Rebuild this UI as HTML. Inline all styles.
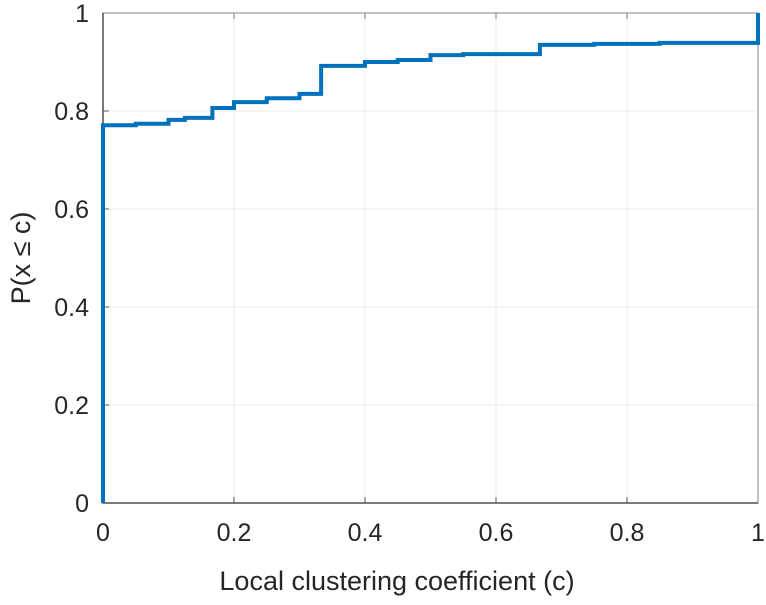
<!DOCTYPE html>
<html><head><meta charset="utf-8"><style>
body{margin:0;background:#fff;width:766px;height:600px;overflow:hidden}
text{font-family:"Liberation Sans",sans-serif;fill:#262626}
</style></head><body>
<svg id="chart" width="766" height="600" xmlns="http://www.w3.org/2000/svg">
<g id="grid"></g>
<g id="ticks"></g>
<path id="series" fill="none" stroke="#0072BD" stroke-width="4" stroke-linejoin="miter"></path>
<text x="397" y="590" font-size="27" text-anchor="middle">Local clustering coefficient (c)</text>
<text transform="translate(30,258) rotate(-90)" font-size="27" text-anchor="middle">P(x ≤ c)</text>
</svg>
<script>
const xTicks=[0,0.2,0.4,0.6,0.8,1];
const xTickLabels=["0","0.2","0.4","0.6","0.8","1"];
const yTicks=[0,0.2,0.4,0.6,0.8,1];
const yTickLabels=["0","0.2","0.4","0.6","0.8","1"];
const cX=[0,0,0.05,0.1,0.125,0.167,0.2,0.25,0.3,0.333,0.4,0.45,0.5,0.55,0.667,0.75,0.85,1,1];
const cY=[0,0.771,0.774,0.782,0.786,0.806,0.818,0.826,0.835,0.892,0.900,0.904,0.914,0.916,0.935,0.937,0.939,0.939,1];
const L=103,R=758,T=13,B=503;
const sx=v=>L+v*(R-L), sy=v=>B-v*(B-T);
const ns="http://www.w3.org/2000/svg";
const grid=document.getElementById('grid'), ticks=document.getElementById('ticks');
function mk(p,tag,a){const e=document.createElementNS(ns,tag);for(const k in a)e.setAttribute(k,a[k]);p.appendChild(e);return e;}
xTicks.forEach((v,i)=>{
 const g=mk(grid,'line',{x1:sx(v),x2:sx(v),y1:T,y2:B,stroke:'#ebebeb','stroke-width':1});
 
 
 const t=mk(ticks,'line',{x1:sx(v),x2:sx(v),y1:B,y2:B-6,stroke:'#555','stroke-width':1});
 
 
 const t2=mk(ticks,'line',{x1:sx(v),x2:sx(v),y1:T,y2:T+6,stroke:'#777','stroke-width':1});
 
 
 const lb=mk(ticks,'text',{x:sx(v),y:541,'font-size':25,'text-anchor':'middle'});
 lb.textContent=xTickLabels[i];
 
 
});
yTicks.forEach((v,i)=>{
 const g=mk(grid,'line',{x1:L,x2:R,y1:sy(v),y2:sy(v),stroke:'#ebebeb','stroke-width':1});
 
 
 const t=mk(ticks,'line',{x1:L,x2:L+6,y1:sy(v),y2:sy(v),stroke:'#555','stroke-width':1});
 
 
 const lb=mk(ticks,'text',{x:89,y:sy(v)+9,'font-size':25,'text-anchor':'end'});
 lb.textContent=yTickLabels[i];
 
 
});
const box=mk(ticks,'rect',{x:L,y:T,width:R-L,height:B-T,fill:'none',stroke:'#999','stroke-width':1.2});


const ax=mk(ticks,'path',{d:`M${L},${T} V${B} H${R}`,fill:'none',stroke:'#555','stroke-width':1.5});


let d='M'+sx(cX[0])+','+sy(cY[0]);
for(let i=1;i<cX.length;i++){d+=' H'+sx(cX[i])+' V'+sy(cY[i]);}
document.getElementById('series').setAttribute('d',d);
</script>
</body></html>
